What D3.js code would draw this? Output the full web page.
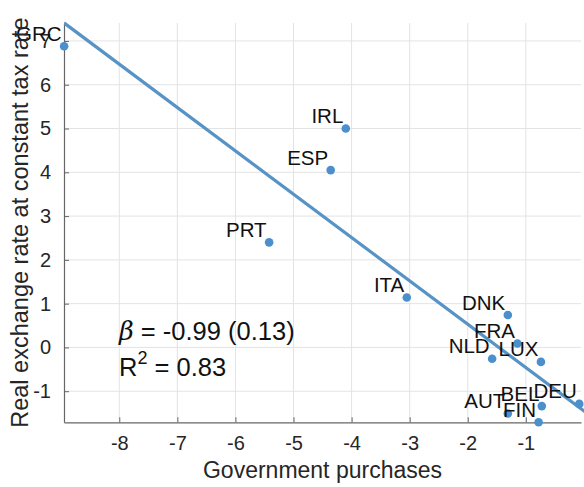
<!DOCTYPE html>
<html>
<head>
<meta charset="utf-8">
<script src="https://cdn.jsdelivr.net/npm/d3@7"></script>
<style>
  html, body { margin: 0; padding: 0; background: #fff; }
  svg { display: block; }
  text { font-family: "Liberation Sans", Arial, Helvetica, sans-serif; }
</style>
</head>
<body>
<script>
const countries = ["GRC","IRL","ESP","PRT","ITA","DNK","FRA","NLD","LUX","BEL","AUT","FIN","DEU"];
const govPurchases = [-8.95,-4.10,-4.36,-5.42,-3.05,-1.31,-1.145,-1.58,-0.74,-0.725,-1.31,-0.78,-0.08];
const realExchange = [6.88,5.00,4.05,2.40,1.14,0.74,0.09,-0.26,-0.33,-1.34,-1.51,-1.71,-1.29];
const fitSlope = -0.99;
const fitIntercept = -1.45;
const xTicks = [-8,-7,-6,-5,-4,-3,-2,-1];
const yTicks = [-1,0,1,2,3,4,5,6,7];
const xLabel = "Government purchases";
const yLabel = "Real exchange rate at constant tax rate";

const W = 584, H = 487;
const pL = 64, pR = 581, pT = 23, pB = 422.3;
const blue = "#4b8fcc", lineBlue = "#5893c6", textCol = "#262626";

const svg = d3.select("body").append("svg").attr("width", W).attr("height", H);

const x = d3.scaleLinear().domain([-8.952, -0.05]).range([pL, pR]);
const y = d3.scaleLinear().domain([-1.71, 7.41]).range([pB, pT]);

// grid
const grid = svg.append("g");
grid.selectAll("line.gx").data(xTicks).enter().append("line")
  .attr("x1", d => x(d)).attr("x2", d => x(d)).attr("y1", pT).attr("y2", pB)
  .attr("stroke", "#e3e3e3").attr("stroke-width", 1);
grid.selectAll("line.gy").data(yTicks).enter().append("line")
  .attr("x1", pL).attr("x2", pR).attr("y1", d => y(d)).attr("y2", d => y(d))
  .attr("stroke", "#e3e3e3").attr("stroke-width", 1);

// axes
const xAxis = d3.axisBottom(x).tickValues(xTicks).tickSizeInner(-5).tickSizeOuter(0).tickPadding(14).tickFormat(d3.format("d"));
const yAxis = d3.axisLeft(y).tickValues(yTicks).tickSizeInner(-5).tickSizeOuter(0).tickPadding(13).tickFormat(d3.format("d"));

const gx = svg.append("g").attr("transform", `translate(0,${pB})`).call(xAxis);
const gy = svg.append("g").attr("transform", `translate(${pL},0)`).call(yAxis);
[gx, gy].forEach(g => {
  g.select(".domain").attr("stroke", "#666").attr("stroke-width", 1.2);
  g.selectAll(".tick line").attr("stroke", "#666");
  g.selectAll(".tick text").attr("fill", textCol).style("font-size", "20px")
    .style("font-family", "'Liberation Sans', Arial, sans-serif");
});
gx.selectAll(".tick text").text(d => d < 0 ? "-" + Math.abs(d) : d);
gy.selectAll(".tick text").text(d => d < 0 ? "-" + Math.abs(d) : d);

// clip
svg.append("clipPath").attr("id", "clip").append("rect")
  .attr("x", pL).attr("y", pT - 2).attr("width", W - pL).attr("height", pB - pT + 2);

// fit line
const xd = x.domain();
const lineData = [xd[0], xd[1] + 0.1].map(v => [v, fitIntercept + fitSlope * v]);
svg.append("path").attr("clip-path", "url(#clip)")
  .datum(lineData)
  .attr("d", d3.line().x(d => x(d[0])).y(d => y(d[1])))
  .attr("fill", "none").attr("stroke", lineBlue).attr("stroke-width", 3.2);

// points
const pts = countries.map((c, i) => ({c, gx: govPurchases[i], ry: realExchange[i]}));
svg.append("g").selectAll("circle").data(pts).enter().append("circle")
  .attr("cx", d => x(d.gx)).attr("cy", d => y(d.ry)).attr("r", 4.3)
  .attr("fill", blue);

// labels
svg.append("g").selectAll("text").data(pts).enter().append("text")
  .attr("x", d => x(d.gx) - 2.5).attr("y", d => y(d.ry) - 5.5)
  .attr("text-anchor", "end").attr("fill", "#111").style("font-size", "20.5px")
  .text(d => d.c);

// annotation
const ann1 = svg.append("text").attr("x", 119).attr("y", 340).attr("fill", "#111").style("font-size", "25.5px");
ann1.append("tspan").style("font-style", "italic").style("font-family", "'DejaVu Serif', 'Liberation Serif', serif").text("β");
ann1.append("tspan").text(" = -0.99 (0.13)");
const ann2 = svg.append("text").attr("x", 119).attr("y", 376).attr("fill", "#111").style("font-size", "25.5px");
ann2.append("tspan").text("R");
ann2.append("tspan").attr("dy", -12).style("font-size", "18px").text("2");
ann2.append("tspan").attr("dy", 12).text(" = 0.83");

// axis labels
svg.append("text").attr("x", (pL + pR) / 2).attr("y", 478)
  .attr("text-anchor", "middle").attr("fill", textCol).style("font-size", "23px").text(xLabel);
svg.append("text").attr("transform", `translate(28,${(pT + pB) / 2}) rotate(-90)`)
  .attr("text-anchor", "middle").attr("fill", textCol).style("font-size", "23.5px").text(yLabel);
</script>
</body>
</html>
